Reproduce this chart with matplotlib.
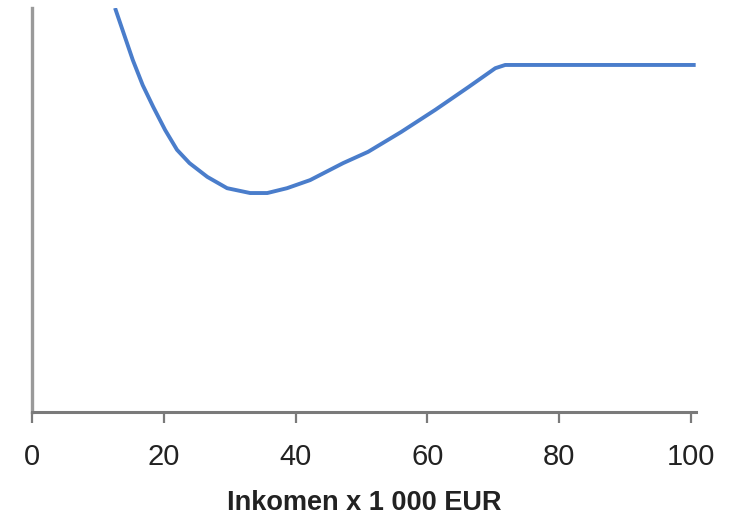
import matplotlib
matplotlib.use("Agg")
import matplotlib.pyplot as plt

# Data (y in arbitrary units, axis has no labels)
income = [12.6, 14.0, 15.3, 16.8, 18.4, 20.2, 22.0, 23.9, 26.6, 29.6, 33.1, 35.7,
          38.7, 42.2, 47.2, 51.0, 56.0, 61.2, 66.2, 70.3, 71.8, 100.7]
value = [100.0, 93.3, 87.1, 80.9, 75.5, 69.8, 64.9, 61.6, 58.2, 55.4, 54.2, 54.2,
         55.4, 57.4, 61.6, 64.4, 69.3, 74.8, 80.4, 85.1, 85.9, 85.9]
xticks = [0, 20, 40, 60, 80, 100]
xlabel = "Inkomen x 1 000 EUR"

fig = plt.figure(figsize=(7.36, 5.15), dpi=100)
ax = fig.add_axes([32/736, 1-412/515, (696-32)/736, (412-8)/515])

ax.plot(income, value, color="#4A7DCB", linewidth=2.8,
        solid_capstyle="butt", solid_joinstyle="round")
ax.set_xlim(0, 100.75)
ax.set_ylim(0, 100)

for s in ["top", "right"]:
    ax.spines[s].set_visible(False)
ax.spines["left"].set_color("#9a9a9a")
ax.spines["left"].set_linewidth(2.4)
ax.spines["bottom"].set_color("#7a7a7a")
ax.spines["bottom"].set_linewidth(2.2)

ax.set_yticks([])
ax.set_xticks(xticks)
ax.set_xticklabels([str(t) for t in xticks], fontfamily="Liberation Sans", fontsize=21, color="#222222")
ax.tick_params(axis="x", direction="out", length=8, width=1.6, color="#7a7a7a", pad=14)
ax.set_xlabel(xlabel, fontfamily="Liberation Sans", fontweight="bold", fontsize=19.5,
              color="#222222", labelpad=14)

fig.savefig("out.png", dpi=100)
